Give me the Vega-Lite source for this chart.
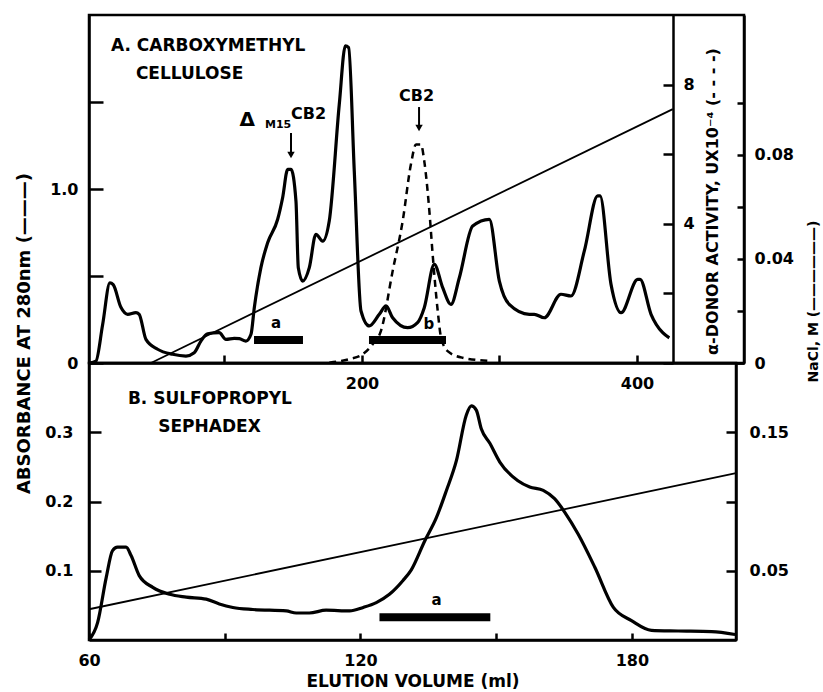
{
  "$schema": "https://vega.github.io/schema/vega-lite/v6.json",
  "background": "white",
  "padding": {"left": 13, "top": 13, "right": 5, "bottom": 5},
  "bounds": "flush",
  "spacing": 0,
  "config": {
    "view": {"stroke": "black", "strokeWidth": 2.5},
    "axis": {
      "domainColor": "black", "domainWidth": 2.5, "tickColor": "black", "tickWidth": 2.5,
      "labelColor": "black", "labelFont": "DejaVu Sans", "labelFontWeight": "bold", "labelFontSize": 16,
      "titleColor": "black", "titleFont": "DejaVu Sans", "titleFontWeight": "bold", "titleFontSize": 17,
      "grid": false, "labelFlush": false, "labelOverlap": false
    },
    "text": {"font": "DejaVu Sans", "fontWeight": "bold", "color": "black"}
  },
  "datasets": {
    "absA": [
      {"ml": 2, "abs": 0}, {"ml": 6.5, "abs": 0.01}, {"ml": 11.4, "abs": 0.22}, {"ml": 16.7, "abs": 0.46},
      {"ml": 19.1, "abs": 0.45}, {"ml": 24.7, "abs": 0.32}, {"ml": 29.6, "abs": 0.28}, {"ml": 35.6, "abs": 0.29},
      {"ml": 38, "abs": 0.28}, {"ml": 42.9, "abs": 0.136}, {"ml": 51.4, "abs": 0.079}, {"ml": 62.3, "abs": 0.05},
      {"ml": 72, "abs": 0.04}, {"ml": 78, "abs": 0.059}, {"ml": 82.9, "abs": 0.126}, {"ml": 87.8, "abs": 0.168},
      {"ml": 96.2, "abs": 0.174}, {"ml": 101.1, "abs": 0.136}, {"ml": 107.1, "abs": 0.142}, {"ml": 110.8, "abs": 0.14},
      {"ml": 115.6, "abs": 0.126}, {"ml": 119.3, "abs": 0.165}, {"ml": 121.7, "abs": 0.318}, {"ml": 126.5, "abs": 0.548},
      {"ml": 131.4, "abs": 0.691}, {"ml": 138.7, "abs": 0.826}, {"ml": 142.3, "abs": 0.95}, {"ml": 146, "abs": 1.113},
      {"ml": 148.4, "abs": 1.113}, {"ml": 152, "abs": 0.931}, {"ml": 153.7, "abs": 0.548}, {"ml": 156.9, "abs": 0.471},
      {"ml": 161.7, "abs": 0.548}, {"ml": 166.5, "abs": 0.74}, {"ml": 171.4, "abs": 0.7}, {"ml": 176.2, "abs": 0.816},
      {"ml": 183.5, "abs": 1.487}, {"ml": 187.9, "abs": 1.822}, {"ml": 190.3, "abs": 1.812}, {"ml": 194.4, "abs": 1.103},
      {"ml": 199.3, "abs": 0.299}, {"ml": 205.3, "abs": 0.213}, {"ml": 212.6, "abs": 0.28}, {"ml": 217.5, "abs": 0.328},
      {"ml": 222.3, "abs": 0.26}, {"ml": 233.2, "abs": 0.203}, {"ml": 240.4, "abs": 0.232}, {"ml": 245.3, "abs": 0.318},
      {"ml": 252.6, "abs": 0.567}, {"ml": 258.7, "abs": 0.433}, {"ml": 264.7, "abs": 0.337}, {"ml": 270.8, "abs": 0.49},
      {"ml": 280.5, "abs": 0.787}, {"ml": 292.6, "abs": 0.826}, {"ml": 299.9, "abs": 0.471}, {"ml": 307.1, "abs": 0.337},
      {"ml": 321.7, "abs": 0.28}, {"ml": 325.3, "abs": 0.28}, {"ml": 332.6, "abs": 0.26}, {"ml": 344.7, "abs": 0.395},
      {"ml": 352, "abs": 0.385}, {"ml": 361.7, "abs": 0.644}, {"ml": 371.4, "abs": 0.96}, {"ml": 373.1, "abs": 0.96},
      {"ml": 381.1, "abs": 0.452}, {"ml": 388.4, "abs": 0.289}, {"ml": 400.5, "abs": 0.481}, {"ml": 402.2, "abs": 0.481},
      {"ml": 410.2, "abs": 0.28}, {"ml": 418.7, "abs": 0.174}, {"ml": 423.5, "abs": 0.145}
    ],
    "actA": [
      {"ml": 176.2, "act": 0.01}, {"ml": 190.8, "act": 0.11}, {"ml": 200.5, "act": 0.25}, {"ml": 207.8, "act": 0.54},
      {"ml": 213.8, "act": 0.92}, {"ml": 222.3, "act": 2.64}, {"ml": 229.6, "act": 4.08}, {"ml": 235.6, "act": 5.71},
      {"ml": 239.3, "act": 6.28}, {"ml": 242.9, "act": 6.28}, {"ml": 245.3, "act": 5.8}, {"ml": 249, "act": 4.37},
      {"ml": 251.4, "act": 3.12}, {"ml": 255.1, "act": 1.49}, {"ml": 257.5, "act": 0.73}, {"ml": 262.3, "act": 0.34},
      {"ml": 273.2, "act": 0.15}, {"ml": 292.6, "act": 0.06}
    ],
    "naclA": [{"ml": 46.5, "nacl": 0}, {"ml": 426, "nacl": 0.0976}],
    "barsA": [
      {"x1": 121.5, "x2": 157.1, "y": 0.132, "label": "a", "lx": 137.5, "ly": 0.23},
      {"x1": 205.1, "x2": 261.1, "y": 0.132, "label": "b", "lx": 248.7, "ly": 0.224}
    ],
    "arrowsA": [
      {"ml": 148.4, "top": 1.322, "bottom": 1.19, "head": 1.195},
      {"ml": 241.5, "top": 1.471, "bottom": 1.35, "head": 1.351}
    ],
    "textA": [
      {"ml": 17.5, "abs": 1.822, "text": "A. CARBOXYMETHYL"},
      {"ml": 35.6, "abs": 1.661, "text": "CELLULOSE"}
    ],
    "deltaA": [{"ml": 111, "abs": 1.395, "text": "Δ"}],
    "cbA": [
      {"ml": 148.4, "abs": 1.431, "text": "CB2"},
      {"ml": 226.9, "abs": 1.534, "text": "CB2"}
    ],
    "subA": [{"ml": 129.5, "abs": 1.368, "text": "M15"}],
    "absB": [
      {"ml": 60, "abs": 0}, {"ml": 61.9, "abs": 0.025}, {"ml": 63.8, "abs": 0.09}, {"ml": 65.2, "abs": 0.129},
      {"ml": 66.3, "abs": 0.134}, {"ml": 68.2, "abs": 0.134}, {"ml": 69.3, "abs": 0.122}, {"ml": 71.1, "abs": 0.093},
      {"ml": 74.1, "abs": 0.076}, {"ml": 77.8, "abs": 0.066}, {"ml": 81.5, "abs": 0.062}, {"ml": 85.9, "abs": 0.059},
      {"ml": 88.8, "abs": 0.052}, {"ml": 91.8, "abs": 0.047}, {"ml": 96.2, "abs": 0.044}, {"ml": 103.6, "abs": 0.042},
      {"ml": 105.8, "abs": 0.039}, {"ml": 108.7, "abs": 0.039}, {"ml": 112.4, "abs": 0.043}, {"ml": 117.6, "abs": 0.042},
      {"ml": 120.6, "abs": 0.047}, {"ml": 123.5, "abs": 0.054}, {"ml": 126.4, "abs": 0.066}, {"ml": 129.4, "abs": 0.086},
      {"ml": 131.2, "abs": 0.101}, {"ml": 134.2, "abs": 0.143}, {"ml": 136.8, "abs": 0.177}, {"ml": 139, "abs": 0.216},
      {"ml": 141.2, "abs": 0.259}, {"ml": 143.4, "abs": 0.325}, {"ml": 144.5, "abs": 0.338}, {"ml": 145.6, "abs": 0.332},
      {"ml": 146.7, "abs": 0.305}, {"ml": 148.6, "abs": 0.284}, {"ml": 150.8, "abs": 0.257}, {"ml": 154.8, "abs": 0.23},
      {"ml": 157.4, "abs": 0.221}, {"ml": 160.4, "abs": 0.216}, {"ml": 162.9, "abs": 0.204}, {"ml": 165.2, "abs": 0.184},
      {"ml": 168.1, "abs": 0.153}, {"ml": 171.8, "abs": 0.105}, {"ml": 175.9, "abs": 0.047}, {"ml": 179.9, "abs": 0.028},
      {"ml": 184.3, "abs": 0.014}, {"ml": 190.2, "abs": 0.013}, {"ml": 197.6, "abs": 0.012}, {"ml": 202.8, "abs": 0.008}
    ],
    "naclB": [{"ml": 60, "nacl": 0.0222}, {"ml": 203, "nacl": 0.1205}],
    "barsB": [{"x1": 124.2, "x2": 148.7, "y": 0.033, "label": "a", "lx": 136.8, "ly": 0.058}],
    "textB": [
      {"ml": 68.6, "abs": 0.348, "text": "B. SULFOPROPYL"},
      {"ml": 75.3, "abs": 0.307, "text": "SEPHADEX"}
    ]
  },
  "vconcat": [
    {
      "width": 655,
      "height": 348,
      "resolve": {"scale": {"x": "independent", "y": "independent"}},
      "layer": [
        {
          "data": {"name": "absA"},
          "mark": {"type": "line", "color": "black", "strokeWidth": 3.2, "interpolate": "monotone"},
          "encoding": {
            "x": {"field": "ml", "type": "quantitative", "scale": {"domain": [1.5, 477.8], "nice": false, "zero": false},
              "axis": {"orient": "bottom", "values": [100, 200, 300, 400], "labelExpr": "datum.value % 200 === 0 ? datum.label : ''", "tickSize": -8, "labelPadding": 20, "title": null}},
            "y": {"field": "abs", "type": "quantitative", "scale": {"domain": [0, 2], "nice": false, "zero": false},
              "axis": {"orient": "left", "values": [0, 0.5, 1, 1.5], "labelExpr": "datum.value === 0 ? '0' : datum.value === 1 ? '1.0' : ''",
                "tickSize": -14, "labelPadding": 25, "title": "ABSORBANCE  AT  280nm (———)", "titleAngle": 270,
                "titleX": -65, "titleY": 318, "titleBaseline": "middle", "titleAlign": "center", "titleFontSize": 18}}
          }
        },
        {
          "data": {"name": "barsA"},
          "mark": {"type": "rule", "color": "black", "strokeWidth": 8, "strokeCap": "butt"},
          "encoding": {
            "x": {"field": "x1", "type": "quantitative", "scale": {"domain": [1.5, 477.8], "nice": false, "zero": false}, "axis": null},
            "x2": {"field": "x2"},
            "y": {"field": "y", "type": "quantitative", "scale": {"domain": [0, 2], "nice": false, "zero": false}, "axis": null}
          }
        },
        {
          "data": {"name": "barsA"},
          "mark": {"type": "text", "fontSize": 15, "align": "center", "baseline": "middle"},
          "encoding": {
            "x": {"field": "lx", "type": "quantitative", "scale": {"domain": [1.5, 477.8], "nice": false, "zero": false}, "axis": null},
            "y": {"field": "ly", "type": "quantitative", "scale": {"domain": [0, 2], "nice": false, "zero": false}, "axis": null},
            "text": {"field": "label"}
          }
        },
        {
          "data": {"name": "arrowsA"},
          "mark": {"type": "rule", "color": "black", "strokeWidth": 2},
          "encoding": {
            "x": {"field": "ml", "type": "quantitative", "scale": {"domain": [1.5, 477.8], "nice": false, "zero": false}, "axis": null},
            "y": {"field": "top", "type": "quantitative", "scale": {"domain": [0, 2], "nice": false, "zero": false}, "axis": null},
            "y2": {"field": "bottom"}
          }
        },
        {
          "data": {"name": "arrowsA"},
          "mark": {"type": "point", "shape": "triangle-down", "filled": true, "color": "black", "size": 55, "opacity": 1},
          "encoding": {
            "x": {"field": "ml", "type": "quantitative", "scale": {"domain": [1.5, 477.8], "nice": false, "zero": false}, "axis": null},
            "y": {"field": "head", "type": "quantitative", "scale": {"domain": [0, 2], "nice": false, "zero": false}, "axis": null}
          }
        },
        {
          "data": {"name": "textA"},
          "mark": {"type": "text", "fontSize": 17, "align": "left", "baseline": "middle"},
          "encoding": {
            "x": {"field": "ml", "type": "quantitative", "scale": {"domain": [1.5, 477.8], "nice": false, "zero": false}, "axis": null},
            "y": {"field": "abs", "type": "quantitative", "scale": {"domain": [0, 2], "nice": false, "zero": false}, "axis": null},
            "text": {"field": "text"}
          }
        },
        {
          "data": {"name": "deltaA"},
          "mark": {"type": "text", "fontSize": 20, "align": "left", "baseline": "middle"},
          "encoding": {
            "x": {"field": "ml", "type": "quantitative", "scale": {"domain": [1.5, 477.8], "nice": false, "zero": false}, "axis": null},
            "y": {"field": "abs", "type": "quantitative", "scale": {"domain": [0, 2], "nice": false, "zero": false}, "axis": null},
            "text": {"field": "text"}
          }
        },
        {
          "data": {"name": "cbA"},
          "mark": {"type": "text", "fontSize": 16, "align": "left", "baseline": "middle"},
          "encoding": {
            "x": {"field": "ml", "type": "quantitative", "scale": {"domain": [1.5, 477.8], "nice": false, "zero": false}, "axis": null},
            "y": {"field": "abs", "type": "quantitative", "scale": {"domain": [0, 2], "nice": false, "zero": false}, "axis": null},
            "text": {"field": "text"}
          }
        },
        {
          "data": {"name": "subA"},
          "mark": {"type": "text", "fontSize": 11, "align": "left", "baseline": "middle"},
          "encoding": {
            "x": {"field": "ml", "type": "quantitative", "scale": {"domain": [1.5, 477.8], "nice": false, "zero": false}, "axis": null},
            "y": {"field": "abs", "type": "quantitative", "scale": {"domain": [0, 2], "nice": false, "zero": false}, "axis": null},
            "text": {"field": "text"}
          }
        },
        {
          "data": {"name": "actA"},
          "mark": {"type": "line", "color": "black", "strokeWidth": 2.5, "strokeDash": [7, 5], "interpolate": "monotone"},
          "encoding": {
            "x": {"field": "ml", "type": "quantitative", "scale": {"domain": [1.5, 477.8], "nice": false, "zero": false}, "axis": null},
            "y": {"field": "act", "type": "quantitative", "scale": {"domain": [0, 10], "nice": false, "zero": false},
              "axis": {"orient": "right", "offset": -71, "values": [0, 2, 4, 6, 8], "labelExpr": "datum.value === 4 ? '4' : datum.value === 8 ? '8' : ''",
                "tickSize": -10, "labelPadding": 20, "title": "α-DONOR  ACTIVITY,  UX10⁻⁴ (- - - -)", "titleAngle": 270,
                "titleX": 39, "titleY": 186, "titleBaseline": "middle", "titleAlign": "center", "titleFontSize": 16}}
          }
        },
        {
          "data": {"name": "naclA"},
          "mark": {"type": "line", "color": "black", "strokeWidth": 1.8},
          "encoding": {
            "x": {"field": "ml", "type": "quantitative", "scale": {"domain": [1.5, 477.8], "nice": false, "zero": false}, "axis": null},
            "y": {"field": "nacl", "type": "quantitative", "scale": {"domain": [0, 0.1338], "nice": false, "zero": false},
              "axis": {"orient": "right", "values": [0, 0.02, 0.04, 0.06, 0.08, 0.1],
                "labelExpr": "datum.value === 0 ? '0' : abs(datum.value - 0.04) < 0.001 ? '0.04' : abs(datum.value - 0.08) < 0.001 ? '0.08' : ''",
                "tickSize": -7, "labelPadding": 17, "title": "NaCl, M (——————)", "titleAngle": 270,
                "titleX": 69, "titleY": 286, "titleBaseline": "middle", "titleAlign": "center", "titleFontSize": 14}}
          }
        }
      ]
    },
    {
      "width": 647,
      "height": 277,
      "resolve": {"scale": {"x": "independent", "y": "independent"}},
      "layer": [
        {
          "data": {"name": "absB"},
          "mark": {"type": "line", "color": "black", "strokeWidth": 3.2, "interpolate": "monotone"},
          "encoding": {
            "x": {"field": "ml", "type": "quantitative", "scale": {"domain": [60, 203], "nice": false, "zero": false},
              "axis": {"orient": "bottom", "values": [60, 90, 120, 150, 180], "labelExpr": "datum.value % 60 === 0 ? datum.label : ''", "tickSize": -7, "labelPadding": 19,
                "title": "ELUTION  VOLUME  (ml)", "titleY": 41, "titleBaseline": "middle", "titleFontSize": 17}},
            "y": {"field": "abs", "type": "quantitative", "scale": {"domain": [0, 0.4], "nice": false, "zero": false},
              "axis": {"orient": "left", "values": [0.1, 0.2, 0.3], "labelExpr": "datum.value === 0.1 ? '0.1' : datum.value === 0.2 ? '0.2' : '0.3'",
                "tickSize": -12, "labelPadding": 28, "title": null}}
          }
        },
        {
          "data": {"name": "barsB"},
          "mark": {"type": "rule", "color": "black", "strokeWidth": 8, "strokeCap": "butt"},
          "encoding": {
            "x": {"field": "x1", "type": "quantitative", "scale": {"domain": [60, 203], "nice": false, "zero": false}, "axis": null},
            "x2": {"field": "x2"},
            "y": {"field": "y", "type": "quantitative", "scale": {"domain": [0, 0.4], "nice": false, "zero": false}, "axis": null}
          }
        },
        {
          "data": {"name": "barsB"},
          "mark": {"type": "text", "fontSize": 15, "align": "center", "baseline": "middle"},
          "encoding": {
            "x": {"field": "lx", "type": "quantitative", "scale": {"domain": [60, 203], "nice": false, "zero": false}, "axis": null},
            "y": {"field": "ly", "type": "quantitative", "scale": {"domain": [0, 0.4], "nice": false, "zero": false}, "axis": null},
            "text": {"field": "label"}
          }
        },
        {
          "data": {"name": "textB"},
          "mark": {"type": "text", "fontSize": 17, "align": "left", "baseline": "middle"},
          "encoding": {
            "x": {"field": "ml", "type": "quantitative", "scale": {"domain": [60, 203], "nice": false, "zero": false}, "axis": null},
            "y": {"field": "abs", "type": "quantitative", "scale": {"domain": [0, 0.4], "nice": false, "zero": false}, "axis": null},
            "text": {"field": "text"}
          }
        },
        {
          "data": {"name": "naclB"},
          "mark": {"type": "line", "color": "black", "strokeWidth": 1.8},
          "encoding": {
            "x": {"field": "ml", "type": "quantitative", "scale": {"domain": [60, 203], "nice": false, "zero": false}, "axis": null},
            "y": {"field": "nacl", "type": "quantitative", "scale": {"domain": [0, 0.2], "nice": false, "zero": false},
              "axis": {"orient": "right", "values": [0.05, 0.1, 0.15], "labelExpr": "datum.value === 0.05 ? '0.05' : datum.value === 0.15 ? '0.15' : ''",
                "tickSize": -10, "labelPadding": 23, "title": null}}
          }
        }
      ]
    }
  ]
}
